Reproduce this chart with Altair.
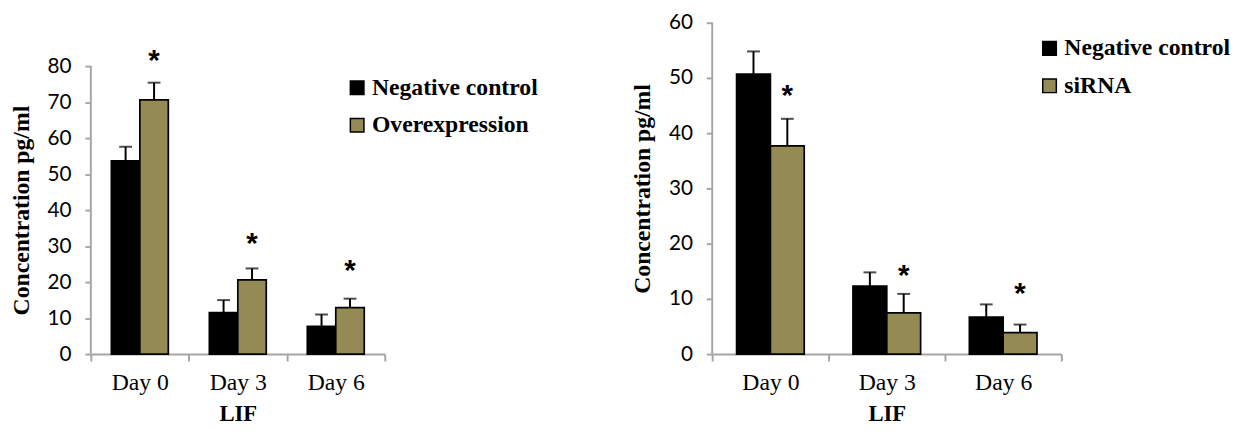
import altair as alt
import pandas as pd

days = ["Day 0", "Day 3", "Day 6"]

# Left panel
left_groups = ["Negative control", "Overexpression"]
left_nc = [53.7, 11.5, 7.7]
left_nc_err = [3.9, 3.5, 3.3]
left_oe = [70.6, 20.6, 12.9]
left_oe_err = [4.8, 3.2, 2.5]
left_star = [82.3, 31.5, 24.0]

# Right panel
right_groups = ["Negative control", "siRNA"]
right_nc = [50.7, 12.3, 6.7]
right_nc_err = [4.1, 2.5, 2.3]
right_si = [37.7, 7.45, 3.9]
right_si_err = [4.9, 3.45, 1.45]
right_star = [47.2, 14.6, 11.4]

OLIVE = "#948A54"
GRAY = "#A6A6A6"
H = 336


def make_df(groups, v1, e1, v2, e2):
    rows = []
    for i, d in enumerate(days):
        rows.append({"day": d, "group": groups[0], "value": v1[i], "top": v1[i] + e1[i]})
        rows.append({"day": d, "group": groups[1], "value": v2[i], "top": v2[i] + e2[i]})
    return pd.DataFrame(rows)


def make_star_df(groups, stars):
    return pd.DataFrame({"day": days, "group": [groups[1]] * 3, "star": stars, "t": ["*"] * 3})


def panel(groups, df, sdf, ymax, yrange, width, legend_x, legend_y):
    xenc = alt.X(
        "day:N",
        sort=days,
        scale=alt.Scale(paddingInner=0, paddingOuter=0),
        axis=alt.Axis(
            title="LIF",
            labelAngle=0,
            domainColor=GRAY,
            domainWidth=2,
            tickColor=GRAY,
            tickWidth=2,
            tickSize=7,
            tickBand="extent",
            labelFont="Liberation Serif",
            labelFontSize=24,
            labelColor="black",
            labelPadding=10,
            titleFont="Liberation Serif",
            titleFontSize=23,
            titleFontWeight="bold",
            titleColor="black",
            titlePadding=8,
            grid=False,
        ),
    )
    xoff = alt.XOffset(
        "group:N", sort=groups,
        scale=alt.Scale(domain=groups, paddingInner=0, paddingOuter=0.72),
    )
    yscale = alt.Scale(domain=[0, ymax], range=yrange, nice=False, zero=True)
    yaxis = alt.Axis(
        title="Concentration pg/ml",
        values=list(range(0, ymax + 1, 10)),
        domain=False,
        tickColor=GRAY,
        tickWidth=2,
        tickSize=6,
        labelFont="Lato",
        labelFontSize=21,
        labelColor="black",
        labelPadding=14,
        titleFont="Liberation Serif",
        titleFontSize=24,
        titleFontWeight="bold",
        titleColor="black",
        titlePadding=14,
        grid=False,
    )
    base = alt.Chart(df)
    axis_df = pd.DataFrame({"y0": [0], "y1": [ymax]})
    yline = alt.Chart(axis_df).mark_rule(color=GRAY, strokeWidth=2).encode(
        x=alt.value(0),
        y=alt.Y("y0:Q", scale=yscale, axis=yaxis),
        y2="y1:Q",
    )
    bars = base.mark_bar(stroke="black", strokeWidth=1.7).encode(
        x=xenc,
        xOffset=xoff,
        y=alt.Y("value:Q", scale=yscale, axis=yaxis),
        color=alt.Color(
            "group:N",
            sort=groups,
            scale=alt.Scale(domain=groups, range=["#000000", OLIVE]),
            legend=alt.Legend(
                orient="none",
                legendX=legend_x,
                legendY=legend_y,
                title=None,
                symbolType="square",
                symbolSize=190,
                symbolStrokeColor="black",
                symbolStrokeWidth=1.5,
                labelFont="Liberation Serif",
                labelFontSize=24,
                labelFontWeight="bold",
                labelColor="black",
                labelOffset=3,
                rowPadding=14,
                labelLimit=400,
            ),
        ),
    )
    whisk = base.mark_rule(color="black", strokeWidth=2).encode(
        x=xenc, xOffset=xoff,
        y=alt.Y("value:Q", scale=yscale, axis=yaxis), y2="top:Q",
    )
    caps = base.mark_tick(color="black", thickness=2, size=13, orient="horizontal").encode(
        x=xenc, xOffset=xoff,
        y=alt.Y("top:Q", scale=yscale, axis=yaxis),
    )
    stars = alt.Chart(sdf).mark_text(
        font="Liberation Sans", fontSize=30, fontWeight="bold", color="black",
        baseline="middle", dy=3
    ).encode(
        x=xenc, xOffset=xoff,
        y=alt.Y("star:Q", scale=yscale, axis=yaxis),
        text="t:N",
    )
    return alt.layer(yline, bars, whisk, caps, stars).properties(width=width, height=H)


left_df = make_df(left_groups, left_nc, left_nc_err, left_oe, left_oe_err)
right_df = make_df(right_groups, right_nc, right_nc_err, right_si, right_si_err)

left = panel(left_groups, left_df, make_star_df(left_groups, left_star),
             80, [H, 44], 298, 258, 54)
right = panel(right_groups, right_df, make_star_df(right_groups, right_star),
              60, [H, 0], 354, 330, 14)

chart = (
    alt.hconcat(left, right, spacing=93)
    .resolve_scale(color="independent", x="independent", y="independent", xOffset="independent")
    .properties(padding={"left": 1, "top": 1, "right": 0, "bottom": 0}, background="white")
    .configure_view(stroke="transparent", strokeWidth=0)
)

chart.save("out.html", embed_options={"renderer": "svg", "actions": False})
